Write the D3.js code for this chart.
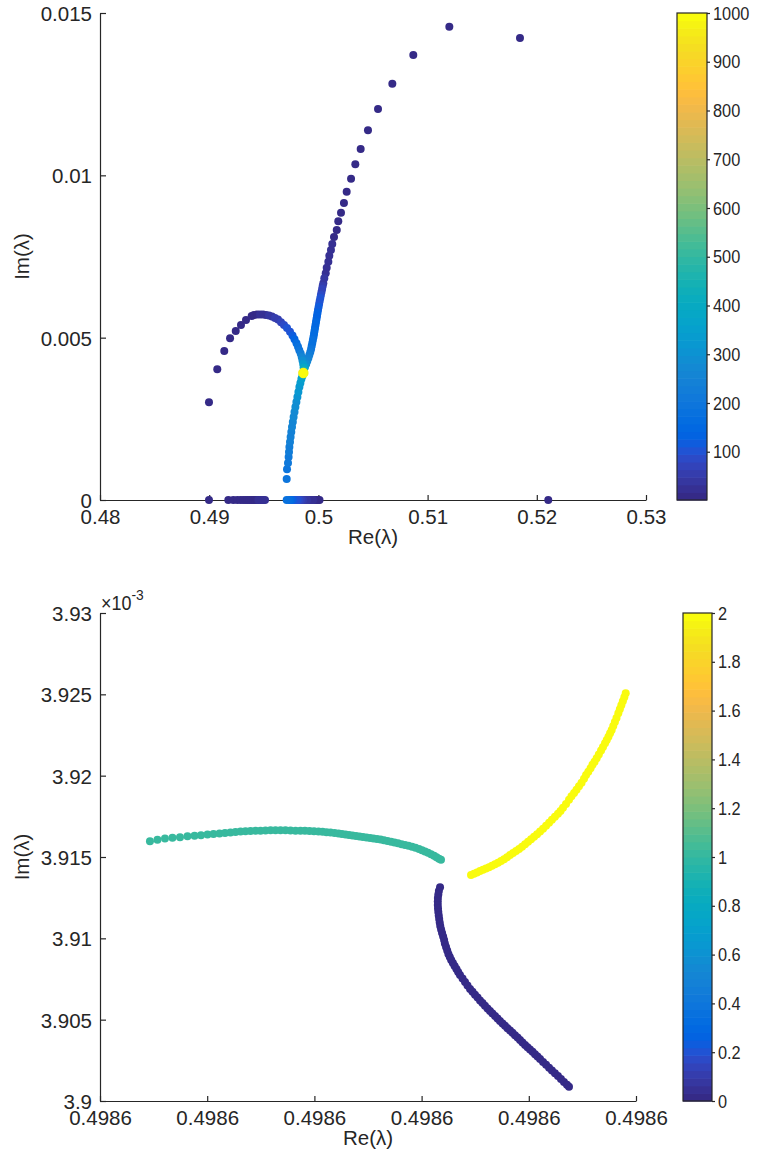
<!DOCTYPE html>
<html><head><meta charset="utf-8">
<script src="https://cdn.jsdelivr.net/npm/d3@7/dist/d3.min.js"></script>
<style>
body{margin:0;background:#fff;}
text{font-family:"Liberation Sans",Arial,Helvetica,sans-serif;fill:#262626;}
</style>
</head><body>
<svg id="chart" width="758" height="1156"></svg>
<script>
// ---------------- DATA: top panel (colour = iteration k) ----------------
const topXTicks = [0.48, 0.49, 0.5, 0.51, 0.52, 0.53];
const topXTickLabels = ["0.48", "0.49", "0.5", "0.51", "0.52", "0.53"];
const topYTicks = [0, 0.005, 0.01, 0.015];
const topYTickLabels = ["0", "0.005", "0.01", "0.015"];
const topCbarTicks = [100, 200, 300, 400, 500, 600, 700, 800, 900, 1000];
const topCbarLimits = [1, 1000];

const upperRe = [0.51846,0.51199,0.50869,0.50677,0.50546,0.50454,0.50387,0.50338,0.50299,0.50259,0.50234,0.50207,0.50182,0.50168,0.50143,0.50127,0.50115,0.50100,0.50091,0.50076,0.50067,0.50054,0.50045,
  0.500394,0.500339,0.500284,0.500229,0.500174,0.500119,0.500064,0.500018,0.499963,0.499918,0.499872,0.499826,0.499780,0.499734,0.499689,0.499643,0.499597,0.499551,0.499496,0.499441,0.499386,0.499331,0.499258,0.499167,0.499084,0.498983,0.498883,0.498773,0.498681];
const upperIm = [0.014230,0.014578,0.013706,0.012822,0.012043,0.011387,0.010811,0.010340,0.009896,0.009496,0.009148,0.008849,0.008584,0.008316,0.008101,0.007885,0.007700,0.007525,0.007340,0.007155,0.006983,0.006829,0.006675,
  0.006591,0.006499,0.006406,0.006314,0.006222,0.006129,0.006037,0.005944,0.005852,0.005760,0.005667,0.005575,0.005482,0.005390,0.005298,0.005205,0.005113,0.005020,0.004928,0.004836,0.004743,0.004651,0.004558,0.004466,0.004374,0.004281,0.004189,0.004096,0.004004];
const upperK = [1,2,3,4,5,6,7,8,9,10,11,12,13,14,15,17,19,21,24,27,31,36,42,
  55,65,75,85,95,103,110,117,124,130,136,141,146,150,154,158,163,168,174,180,188,197,208,222,240,262,290,330,390];

const arcRe = [0.48998,0.49074,0.49138,0.49191,0.49243,0.49291,0.49337,0.49389,
  0.494103,0.494377,0.494652,0.494927,0.495201,0.495476,0.495751,0.496026,0.496300,0.496575,0.496850,0.497125,0.497399,0.497628,0.497811,0.497994,0.498132,0.498251,0.498379,0.498471,0.498544,0.498608,0.498645,0.498672];
const arcIm = [0.003009,0.004026,0.004589,0.004980,0.005205,0.005390,0.005544,0.005667,
  0.005698,0.005710,0.005717,0.005713,0.005701,0.005680,0.005649,0.005609,0.005556,0.005473,0.005390,0.005298,0.005184,0.005067,0.004950,0.004826,0.004719,0.004611,0.004512,0.004404,0.004297,0.004189,0.004081,0.003989];
const arcK = [1,2,3,4,5,6,7,8,
  12,16,20,25,30,36,43,51,60,70,82,95,110,125,140,158,178,200,225,255,290,330,380,440];

const lowerRe = [0.497097,0.497125,0.497216,0.497271,0.497308,0.497344,0.497399,0.497454,0.497518,0.497582,0.497656,0.497729,0.497811,0.497894,0.497985,0.498077,0.498168,0.498260,0.498352,0.498443,0.498535];
const lowerIm = [0.000647,0.000946,0.001140,0.001324,0.001478,0.001632,0.001786,0.001940,0.002094,0.002248,0.002402,0.002556,0.002710,0.002864,0.003018,0.003172,0.003326,0.003480,0.003604,0.003727,0.003819];
const lowerK = [190,200,208,215,222,229,236,243,250,257,264,271,279,287,296,305,315,326,338,352,370];

const junctionRe = [0.49851,0.49873,0.49862,0.49862,0.49862];
const junctionIm = [0.003914,0.003914,0.003951,0.003877,0.003914];
const junctionK = [960,970,980,990,1000];

const realRe = [0.48998,
  0.491749,0.492207,0.492573,0.492885,0.493123,0.493343,0.493526,0.493709,0.493892,0.494038,0.494194,0.494350,0.494496,0.494652,0.494808,0.494954,0.495110,
  0.497097,0.497308,0.497491,0.497674,0.497857,0.498040,0.498223,0.498407,0.498590,0.498773,0.498956,0.499139,0.499322,0.499505,0.499689,0.499826,0.499963,0.500101,
  0.52105];
const realK = [1,
  2,3,4,5,6,7,8,9,10,12,14,16,18,21,24,27,30,
  185,165,145,125,110,95,80,68,57,47,38,30,23,17,12,8,5,3,
  1];

// ---------------- DATA: bottom panel (colour = branch 0/1/2) ----------------
const botXTicks = [0.498595,0.498605,0.498615,0.498625,0.498635,0.498645];
const botXTickLabels = ["0.4986","0.4986","0.4986","0.4986","0.4986","0.4986"];
const botYTicks = [0.0039,0.003905,0.00391,0.003915,0.00392,0.003925,0.00393];
const botYTickLabels = ["3.9","3.905","3.91","3.915","3.92","3.925","3.93"];
const botCbarTicks = [0,0.2,0.4,0.6,0.8,1,1.2,1.4,1.6,1.8,2];
const botCbarTickLabels = ["0","0.2","0.4","0.6","0.8","1","1.2","1.4","1.6","1.8","2"];
const botCbarLimits = [0, 2];
const branchValues = [0, 1, 2];

const branch0Re = [0.49862672,0.49862661,0.49862656,0.49862652,0.49862651,0.49862651,0.49862653,0.49862656,0.49862660,0.49862664,
  0.49862669,0.49862674,0.49862682,0.49862691,0.49862701,0.49862710,0.49862717,0.49862728,0.49862739,0.49862750,
  0.49862763,0.49862776,0.49862792,0.49862808,0.49862825,0.49862841,0.49862858,
  0.49862882,0.49862905,0.49862928,0.49862952,0.49862975,0.49862998,0.49863022,0.49863045,0.49863068,0.49863091,
  0.49863115,0.49863138,0.49863161,0.49863185,0.49863208,0.49863231,0.49863255,0.49863278,0.49863301,0.49863325,
  0.49863348,0.49863371,0.49863395,0.49863418,0.49863441,0.49863465,0.49863488,0.49863511,0.49863535,0.49863558,
  0.49863581,0.49863605,0.49863633,0.49863661,0.49863689,0.49863716,0.49863744,0.49863772,0.49863800,0.49863828,
  0.49863856,0.49863875];
const branch0Im = [0.00391314,0.00391291,0.00391269,0.00391248,0.00391226,0.00391205,0.00391183,0.00391162,0.00391140,0.00391119,
  0.00391097,0.00391076,0.00391054,0.00391033,0.00391011,0.00390990,0.00390968,0.00390947,0.00390925,0.00390904,
  0.00390885,0.00390867,0.00390848,0.00390830,0.00390811,0.00390793,0.00390775,
  0.00390753,0.00390732,0.00390710,0.00390689,0.00390671,0.00390653,0.00390636,0.00390618,0.00390602,0.00390586,
  0.00390569,0.00390553,0.00390538,0.00390523,0.00390507,0.00390492,0.00390477,0.00390462,0.00390448,0.00390433,
  0.00390419,0.00390404,0.00390390,0.00390375,0.00390360,0.00390345,0.00390331,0.00390317,0.00390302,0.00390287,
  0.00390273,0.00390258,0.00390240,0.00390223,0.00390205,0.00390188,0.00390170,0.00390153,0.00390135,0.00390117,
  0.00390100,0.00390088];

const branch1Re = [0.49859966,0.49860036,0.49860106,0.49860176,0.49860246,0.49860316,0.49860382,0.49860442,0.49860503,0.49860559,
  0.49860615,0.49860666,0.49860717,0.49860764,0.49860811,0.49860857,0.49860904,0.49860951,0.49860997,0.49861044,
  0.49861091,0.49861137,0.49861184,0.49861230,0.49861277,0.49861324,0.49861370,0.49861412,0.49861454,0.49861496,
  0.49861538,0.49861576,0.49861613,0.49861650,0.49861688,0.49861725,0.49861757,0.49861790,0.49861823,0.49861855,
  0.49861888,0.49861921,0.49861953,0.49861986,0.49862019,0.49862051,0.49862084,0.49862117,0.49862149,0.49862182,
  0.49862215,0.49862247,0.49862280,0.49862313,0.49862345,0.49862378,0.49862411,0.49862443,0.49862476,0.49862504,
  0.49862532,0.49862560,0.49862588,0.49862616,0.49862639,0.49862662,0.49862681];
const branch1Im = [0.00391597,0.00391606,0.00391613,0.00391618,0.00391622,0.00391627,0.00391630,0.00391634,0.00391638,0.00391641,
  0.00391644,0.00391648,0.00391651,0.00391653,0.00391656,0.00391658,0.00391660,0.00391661,0.00391662,0.00391663,
  0.00391664,0.00391664,0.00391664,0.00391664,0.00391663,0.00391662,0.00391662,0.00391661,0.00391660,0.00391659,
  0.00391657,0.00391655,0.00391652,0.00391650,0.00391648,0.00391644,0.00391641,0.00391638,0.00391635,0.00391632,
  0.00391629,0.00391626,0.00391623,0.00391620,0.00391617,0.00391614,0.00391611,0.00391607,0.00391603,0.00391598,
  0.00391593,0.00391589,0.00391584,0.00391579,0.00391574,0.00391569,0.00391563,0.00391557,0.00391549,0.00391542,
  0.00391534,0.00391526,0.00391517,0.00391507,0.00391499,0.00391490,0.00391483];

const branch2Re = [0.49862961,0.49862989,0.49863017,0.49863045,0.49863073,0.49863101,0.49863129,0.49863157,0.49863185,0.49863213,
  0.49863241,0.49863269,0.49863297,0.49863325,0.49863353,0.49863381,0.49863409,0.49863437,0.49863465,0.49863493,
  0.49863521,0.49863549,0.49863577,0.49863605,0.49863633,0.49863661,0.49863689,0.49863716,0.49863744,0.49863772,
  0.49863796,0.49863819,0.49863847,0.49863875,0.49863898,0.49863922,0.49863945,0.49863968,0.49863992,0.49864015,
  0.49864034,0.49864055,0.49864076,0.49864094,0.49864113,0.49864133,0.49864153,0.49864174,0.49864192,0.49864211,
  0.49864227,0.49864243,0.49864258,0.49864273,0.49864288,0.49864303,0.49864318,0.49864335,0.49864349,0.49864363,
  0.49864377,0.49864391,0.49864404];
const branch2Im = [0.00391389,0.00391397,0.00391405,0.00391414,0.00391421,0.00391429,0.00391437,0.00391446,0.00391455,0.00391464,
  0.00391475,0.00391486,0.00391499,0.00391512,0.00391525,0.00391537,0.00391549,0.00391563,0.00391578,0.00391594,
  0.00391609,0.00391625,0.00391640,0.00391656,0.00391674,0.00391692,0.00391711,0.00391729,0.00391748,0.00391766,
  0.00391783,0.00391802,0.00391826,0.00391852,0.00391873,0.00391893,0.00391914,0.00391935,0.00391956,0.00391981,
  0.00392004,0.00392024,0.00392046,0.00392067,0.00392085,0.00392107,0.00392130,0.00392155,0.00392176,0.00392199,
  0.00392219,0.00392240,0.00392260,0.00392281,0.00392305,0.00392330,0.00392354,0.00392383,0.00392408,0.00392433,
  0.00392458,0.00392482,0.00392506];

// ---------------- colormap (MATLAB parula, 64 entries) ----------------
const parula = [[0.2081,0.1663,0.5292],[0.2116,0.1898,0.5777],[0.2123,0.2138,0.6270],[0.2081,0.2386,0.6771],[0.1959,0.2645,0.7279],[0.1707,0.2919,0.7792],[0.1253,0.3242,0.8303],[0.0591,0.3598,0.8683],[0.0117,0.3875,0.8820],[0.0060,0.4086,0.8828],[0.0165,0.4266,0.8786],[0.0329,0.4430,0.8720],[0.0498,0.4586,0.8641],[0.0629,0.4737,0.8554],[0.0723,0.4887,0.8467],[0.0779,0.5040,0.8384],[0.0793,0.5200,0.8312],[0.0749,0.5375,0.8263],[0.0641,0.5570,0.8240],[0.0488,0.5772,0.8228],[0.0343,0.5966,0.8199],[0.0265,0.6137,0.8135],[0.0239,0.6287,0.8038],[0.0231,0.6418,0.7913],[0.0228,0.6535,0.7768],[0.0267,0.6642,0.7607],[0.0384,0.6743,0.7436],[0.0590,0.6838,0.7254],[0.0843,0.6928,0.7062],[0.1133,0.7015,0.6859],[0.1453,0.7098,0.6646],[0.1801,0.7177,0.6424],[0.2178,0.7250,0.6193],[0.2586,0.7317,0.5954],[0.3022,0.7376,0.5712],[0.3482,0.7424,0.5473],[0.3953,0.7459,0.5244],[0.4420,0.7481,0.5033],[0.4871,0.7491,0.4840],[0.5300,0.7491,0.4661],[0.5709,0.7485,0.4494],[0.6099,0.7473,0.4337],[0.6473,0.7456,0.4188],[0.6834,0.7435,0.4044],[0.7184,0.7411,0.3905],[0.7525,0.7384,0.3768],[0.7858,0.7356,0.3633],[0.8185,0.7327,0.3498],[0.8507,0.7299,0.3360],[0.8824,0.7274,0.3217],[0.9139,0.7258,0.3063],[0.9450,0.7261,0.2886],[0.9739,0.7314,0.2666],[0.9938,0.7455,0.2403],[0.9990,0.7653,0.2164],[0.9955,0.7861,0.1967],[0.9880,0.8066,0.1794],[0.9789,0.8271,0.1633],[0.9697,0.8481,0.1475],[0.9626,0.8705,0.1309],[0.9589,0.8949,0.1132],[0.9598,0.9218,0.0948],[0.9661,0.9514,0.0755],[0.9763,0.9831,0.0538]];
const parulaCss = parula.map(c => d3.rgb(c[0]*255, c[1]*255, c[2]*255).formatHex());
function cmap(v, lim) {
  let i = Math.floor((v - lim[0]) / (lim[1] - lim[0]) * 64);
  return parulaCss[Math.max(0, Math.min(63, i))];
}

// ---------------- drawing ----------------
const svg = d3.select("#chart");
const AX = "#262626";
const TICK_FONT = "20.5px";
const R = 4;

function styleAxis(g) {
  g.select(".domain").attr("stroke", AX).attr("stroke-width", 1.2);
  g.selectAll(".tick line").attr("stroke", AX).attr("stroke-width", 1.2);
  g.selectAll(".tick text").attr("fill", AX).style("font-size", TICK_FONT).attr("font-family", null);
}

function drawColorbar(x0, y0, w, h, lim, ticks, labels) {
  const cs = d3.scaleLinear().domain(lim).range([y0 + h, y0]);
  const g = svg.append("g");
  const bandH = h / 64;
  g.selectAll("rect.band").data(d3.range(64)).join("rect")
    .attr("x", x0).attr("width", w)
    .attr("y", i => y0 + h - (i + 1) * bandH).attr("height", bandH + 0.6)
    .attr("fill", i => parulaCss[i]);
  g.append("rect").attr("x", x0).attr("y", y0).attr("width", w).attr("height", h)
    .attr("fill", "none").attr("stroke", AX).attr("stroke-width", 1.2);
  const ax = g.append("g").attr("transform", `translate(${x0 + w},0)`)
    .call(d3.axisRight(cs).tickValues(ticks).tickFormat((d, i) => labels[i]).tickSizeOuter(0).tickSize(3).tickPadding(3));
  ax.select(".domain").remove();
  ax.selectAll(".tick line").attr("stroke", AX).attr("stroke-width", 1.2);
  const sx = 0.86;
  ax.selectAll(".tick text").attr("fill", AX).attr("font-family", null)
    .style("font-size", "19px")
    .attr("x", 6 / sx).attr("transform", `scale(${sx},1)`);
}

function axisLabels(cx, baseY, cy) {
  svg.append("text").attr("x", cx).attr("y", baseY).attr("text-anchor", "middle")
    .style("font-size", "20.5px").text("Re(\u03BB)");
  svg.append("text").attr("transform", `translate(29,${cy}) rotate(-90)`).attr("text-anchor", "middle")
    .style("font-size", "20.5px").text("Im(\u03BB)");
}

// ===== Top panel =====
{
  const x = d3.scaleLinear().domain([0.48, 0.53]).range([100, 646]);
  const y = d3.scaleLinear().domain([0, 0.015]).range([500, 13]);
  const gx = svg.append("g").attr("transform", "translate(0,500)")
    .call(d3.axisBottom(x).tickValues(topXTicks).tickFormat((d, i) => topXTickLabels[i]).tickSizeInner(-5).tickSizeOuter(0).tickPadding(9));
  styleAxis(gx);
  const gy = svg.append("g").attr("transform", "translate(100,0)")
    .call(d3.axisLeft(y).tickValues(topYTicks).tickFormat((d, i) => topYTickLabels[i]).tickSizeInner(-6).tickSizeOuter(0).tickPadding(8));
  styleAxis(gy);
  gy.selectAll(".tick text").attr("dy", "0.36em");

  const pts = [];
  upperRe.forEach((v, i) => pts.push({re: v, im: upperIm[i], k: upperK[i]}));
  arcRe.forEach((v, i) => pts.push({re: v, im: arcIm[i], k: arcK[i]}));
  lowerRe.forEach((v, i) => pts.push({re: v, im: lowerIm[i], k: lowerK[i]}));
  realRe.forEach((v, i) => pts.push({re: v, im: 0, k: realK[i]}));
  junctionRe.forEach((v, i) => pts.push({re: v, im: junctionIm[i], k: junctionK[i]}));
  pts.sort((a, b) => a.k - b.k);
  svg.append("g").selectAll("circle").data(pts).join("circle")
    .attr("cx", d => x(d.re)).attr("cy", d => y(d.im)).attr("r", R)
    .attr("fill", d => cmap(d.k, topCbarLimits));

  axisLabels(373, 544, 256.5);
  drawColorbar(677, 13, 30, 487, topCbarLimits, topCbarTicks, topCbarTicks.map(String));
}

// ===== Bottom panel =====
{
  const x = d3.scaleLinear().domain([0.498595, 0.498645]).range([100, 636]);
  const y = d3.scaleLinear().domain([0.0039, 0.00393]).range([1101, 613]);
  const gx = svg.append("g").attr("transform", "translate(0,1101)")
    .call(d3.axisBottom(x).tickValues(botXTicks).tickFormat((d, i) => botXTickLabels[i]).tickSizeInner(-5).tickSizeOuter(0).tickPadding(9));
  styleAxis(gx);
  const gy = svg.append("g").attr("transform", "translate(100,0)")
    .call(d3.axisLeft(y).tickValues(botYTicks).tickFormat((d, i) => botYTickLabels[i]).tickSizeInner(-6).tickSizeOuter(0).tickPadding(8));
  styleAxis(gy);
  gy.selectAll(".tick text").attr("dy", "0.36em");

  // exponent label
  const ex = svg.append("text").attr("transform", "translate(101,610) scale(0.92,1)").style("font-size", "19.5px");
  ex.append("tspan").text("\u00D710");
  ex.append("tspan").attr("dy", -10).style("font-size", "15px").text("-3");

  const branches = [
    {re: branch1Re, im: branch1Im, v: branchValues[1]},
    {re: branch0Re, im: branch0Im, v: branchValues[0]},
    {re: branch2Re, im: branch2Im, v: branchValues[2]}
  ];
  const g = svg.append("g");
  branches.forEach(b => {
    g.append("g").selectAll("circle").data(b.re.map((v, i) => ({re: v, im: b.im[i]}))).join("circle")
      .attr("cx", d => x(d.re)).attr("cy", d => y(d.im)).attr("r", R)
      .attr("fill", cmap(b.v, botCbarLimits));
  });

  axisLabels(368, 1145, 857);
  drawColorbar(683, 613, 29, 488, botCbarLimits, botCbarTicks, botCbarTickLabels);
}
</script>
</body></html>
